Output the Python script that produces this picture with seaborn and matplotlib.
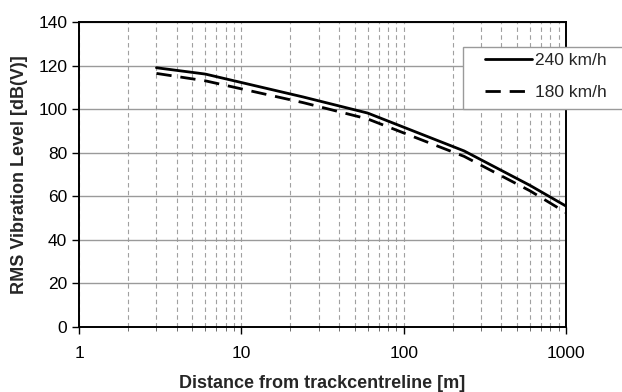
import matplotlib
matplotlib.use("Agg")
import matplotlib.pyplot as plt
import seaborn as sns
import pandas as pd
from matplotlib.ticker import FixedLocator, LogLocator, NullFormatter
from matplotlib.lines import Line2D
from matplotlib.patches import Rectangle

distance = [3, 6, 24, 60, 236, 600, 1000]
level_240 = [119.0, 116.1, 105.6, 98.2, 80.8, 65.0, 55.5]
level_180 = [116.4, 113.0, 103.0, 95.5, 78.3, 62.5, 52.5]
series_names = ["240 km/h", "180 km/h"]
x_ticks = [1, 10, 100, 1000]
x_tick_labels = ["1", "10", "100", "1000"]

df = pd.concat([
    pd.DataFrame({"Distance": distance, "Level": level_240, "Speed": series_names[0]}),
    pd.DataFrame({"Distance": distance, "Level": level_180, "Speed": series_names[1]}),
])

sns.set_theme(style="white")
plt.rcParams["font.family"] = ["Liberation Sans", "DejaVu Sans"]

W, H = 622, 392
fig = plt.figure(figsize=(W / 100, H / 100), dpi=100)
ax = fig.add_axes([79 / W, 1 - 327 / H, (566 - 79) / W, (327 - 22) / H])

DASH = (5.5, 3.2)
sns.lineplot(data=df, x="Distance", y="Level", style="Speed", color="black",
             dashes={series_names[0]: "", series_names[1]: DASH},
             linewidth=2, ax=ax, legend=False, sort=False)

ax.set_xscale("log")
ax.set_xlim(1, 1000)
ax.set_ylim(0, 140)
ax.set_yticks(range(0, 141, 20))
ax.xaxis.set_major_locator(FixedLocator(x_ticks))
ax.set_xticklabels(x_tick_labels)
ax.xaxis.set_minor_locator(LogLocator(base=10, subs=range(2, 10)))
ax.xaxis.set_minor_formatter(NullFormatter())

ax.yaxis.grid(True, color="#9a9a9a", linestyle="-", linewidth=1)
ax.xaxis.grid(True, which="both", color="#a0a0a0", linestyle=(0, (4, 3)), linewidth=0.8)
ax.set_axisbelow(True)

for s in ax.spines.values():
    s.set_color("black")
    s.set_linewidth(1.4)

ax.tick_params(axis="both", which="major", direction="out", length=5, width=1,
               color="black", labelsize=12.5, labelcolor="black", bottom=True, left=True)
ax.tick_params(axis="y", which="major", pad=3.5)
ax.tick_params(axis="x", which="major", pad=9)
ax.tick_params(axis="x", which="minor", bottom=True, length=3, width=0.6, color="#555555")

ax.set_xlabel("Distance from trackcentreline [m]", fontsize=13, fontweight="bold", labelpad=10)
ax.set_ylabel("RMS Vibration Level [dB(V)]", fontsize=13, fontweight="bold", labelpad=7)

# legend frame box (extends to the right edge of the figure)
frame = Rectangle((463 / W, 1 - 109 / H), (W + 5 - 463) / W, (109 - 47) / H,
                  transform=fig.transFigure, facecolor="white", edgecolor="#9a9a9a",
                  linewidth=1, zorder=3)
fig.patches.append(frame)

handles = [Line2D([], [], color="black", linewidth=2),
           Line2D([], [], color="black", linewidth=2, dashes=DASH)]
leg = fig.legend(handles, series_names, loc="upper left",
                 bbox_to_anchor=(485 / W, 1 - 53 / H), frameon=False,
                 fontsize=12.5, handlelength=2.7, handletextpad=0.17,
                 borderpad=0, borderaxespad=0, labelspacing=0.96)

fig.savefig("out.png", dpi=100)
